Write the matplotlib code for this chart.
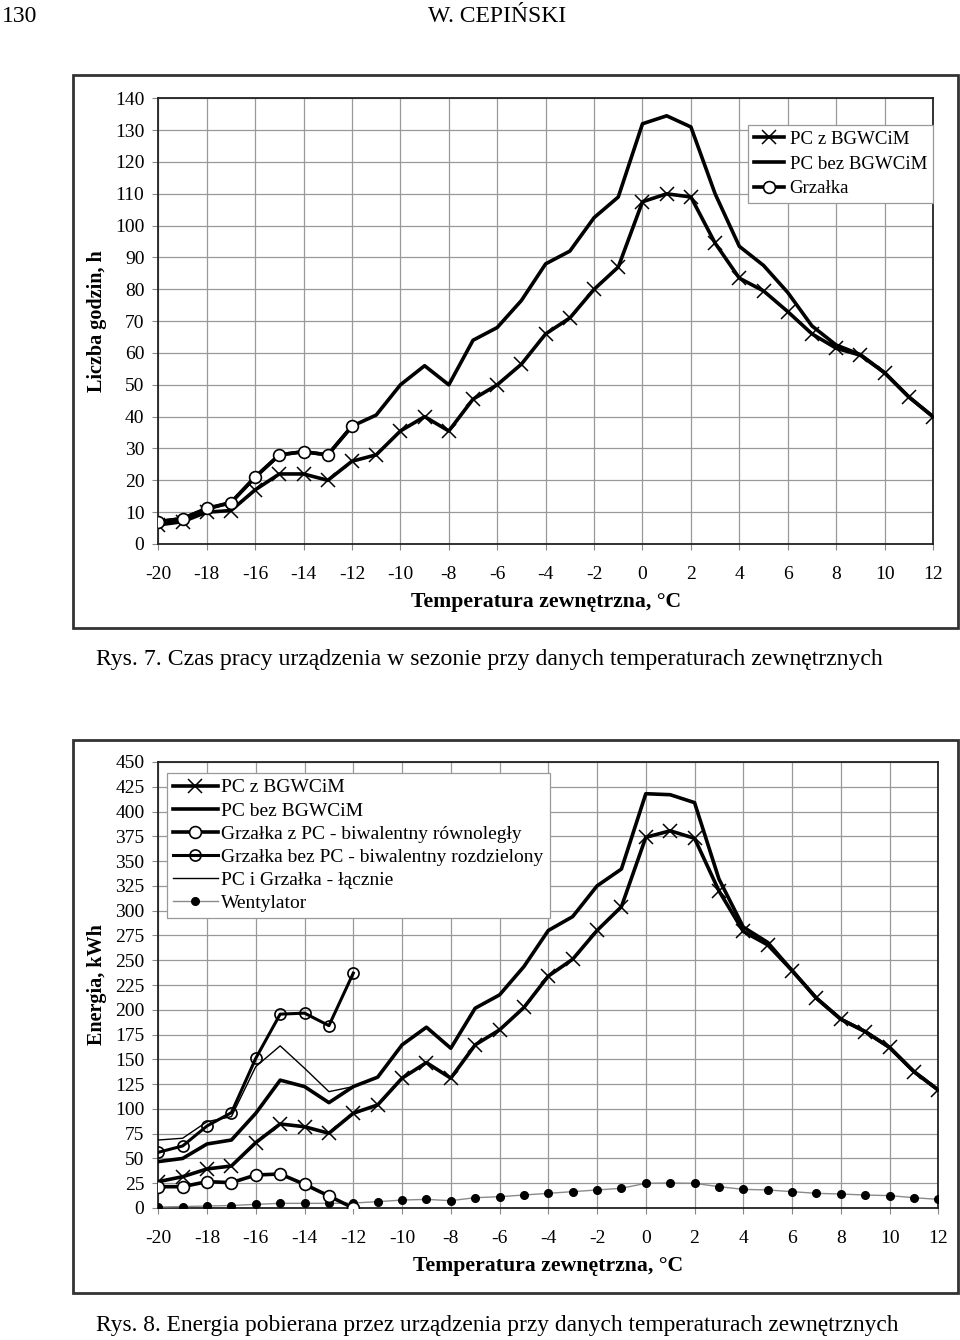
import matplotlib
matplotlib.use("Agg")
import matplotlib.pyplot as plt
from matplotlib.patches import Rectangle

plt.rcParams['font.family'] = ['Liberation Serif', 'DejaVu Serif']
plt.rcParams['axes.unicode_minus'] = False

# temperatura zewnetrzna, C
temps = list(range(-20, 13))

# Rys. 7 - liczba godzin pracy
hours_pc_z = [6, 7, 10, 10.5, 17, 22, 22, 20, 26, 28, 35.5, 40, 35.5, 45.5, 50, 56.5, 66,
              71, 80, 87, 107.5, 110, 109, 94.5, 83.5, 79.5, 73, 66, 61.5, 59.3, 53.8, 46.2, 40]
hours_pc_bez = [7, 8, 11, 13, 21, 28, 29, 28, 37, 40.5, 50, 56, 50, 64, 68, 76.5, 88,
                92, 102.5, 109, 132, 134.5, 131, 110, 93.5, 87.5, 79, 68.5, 62.5, 59.5, 53.8, 46.2, 40]
temps_grz = list(range(-20, -11))
hours_grz = [7, 8, 11.2, 13, 21, 28, 29, 28, 37]

# Rys. 8 - energia, kWh
en_pc_z = [26.6, 31.6, 39.4, 42.4, 66, 84.8, 82, 75.4, 95.6, 104, 131, 146.7, 131, 164.6, 179.7, 202.3, 234,
           251, 280, 304, 374, 380.6, 373, 320, 279, 265.5, 239.6, 211.7, 190.5, 178, 162, 137.6, 119]
en_pc_bez = [46.8, 50, 64.6, 68.6, 95.6, 129, 122.5, 106.3, 122.5, 132, 164.6, 182.4, 161.2, 201.6, 215, 243.6, 280,
             294, 325, 342, 418, 417, 409, 332, 283.4, 268, 239.6, 211.7, 190.5, 178, 162, 137.6, 119]
en_grz_z_pc = [21.5, 21.5, 26.6, 25.6, 33.3, 34.3, 23.9, 12.1, 0]
en_grz_bez_pc = [56.2, 62.6, 82.8, 96.2, 151.1, 195.6, 196.6, 184, 237]
en_pc_i_grz = [68.6, 70.4, 87.1, 92.2, 142.7, 163.6, 141, 117.4, 122.5]
en_went = [1, 1.5, 2, 2.5, 3.7, 4.7, 4.7, 4.7, 5, 6.4, 8, 8.7, 7.4, 10.4, 11.4, 13.1, 14.8,
           16.5, 18.2, 19.9, 24.9, 25.2, 24.9, 21.5, 18.8, 18.2, 16.5, 14.8, 14.1, 13.1, 12.5, 10.4, 8.7]

W, H = 960, 1340
fig = plt.figure(figsize=(W / 100, H / 100), dpi=100)


def fx(px):
    return px / W


def fy(py):
    return 1 - py / H


def frame(x0, y0, x1, y1):
    fig.patches.append(Rectangle((fx(x0), fy(y1)), fx(x1 - x0), (y1 - y0) / H, transform=fig.transFigure,
                                 fill=False, edgecolor='#333333', linewidth=2))


def style_axes(ax, ymax, ystep):
    ax.set_xlim(-20, 12)
    ax.set_ylim(0, ymax)
    ax.set_xticks(range(-20, 13, 2))
    ax.set_yticks(range(0, ymax + 1, ystep))
    ax.grid(True, color='#999999', linewidth=0.9)
    ax.set_axisbelow(True)
    for s in ax.spines.values():
        s.set_color('#222222')
        s.set_linewidth(1.3)
    ax.tick_params(axis='both', direction='out', length=4, width=0.8, color='#888888', labelsize=14)
    ax.tick_params(axis='y', pad=6)
    ax.tick_params(axis='x', pad=12)
    ax.set_xlabel('Temperatura zewnętrzna, °C', fontsize=15.7, fontweight='bold', labelpad=6)


# naglowek strony
fig.text(fx(2), fy(17), '130', fontsize=17, va='center', ha='left')
fig.text(fx(497), fy(17), 'W. CEPIŃSKI', fontsize=17, va='center', ha='center')

# ---------- Rys. 7 ----------
frame(73, 75, 958, 628)
ax1 = fig.add_axes([fx(158.3), fy(544), fx(933 - 158.3), (544 - 98.3) / H])
style_axes(ax1, 140, 10)
ax1.set_ylabel('Liczba godzin, h', fontsize=14.5, fontweight='bold', labelpad=6)

ax1.plot(temps, hours_pc_bez, color='black', lw=2.6, label='PC bez BGWCiM', zorder=3)
ax1.plot(temps, hours_pc_z, color='black', lw=2.6, marker='x', ms=10, mew=1.1, label='PC z BGWCiM', zorder=4)
ax1.plot(temps_grz, hours_grz, color='black', lw=2.6, marker='o', ms=8.5, mfc='white', mec='black', mew=1.2,
         label='Grzałka', zorder=5)

h, l = ax1.get_legend_handles_labels()
order = [1, 0, 2]
leg1 = ax1.legend([h[i] for i in order], [l[i] for i in order], loc='upper left',
                  bbox_to_anchor=(fx(748), fy(125)), bbox_transform=fig.transFigure, borderaxespad=0,
                  fontsize=13.6, fancybox=False, framealpha=1, edgecolor='#999999',
                  handlelength=1.6, handletextpad=0.3, labelspacing=0.4, borderpad=0.3)
leg1.get_frame().set_linewidth(0.9)

fig.text(fx(96), fy(660), 'Rys. 7. Czas pracy urządzenia w sezonie przy danych temperaturach zewnętrznych',
         fontsize=17.1, va='center', ha='left')

# ---------- Rys. 8 ----------
frame(73, 740, 958, 1293)
ax2 = fig.add_axes([fx(158.3), fy(1208), fx(938.3 - 158.3), (1208 - 762) / H])
style_axes(ax2, 450, 25)
ax2.set_ylabel('Energia, kWh', fontsize=14.5, fontweight='bold', labelpad=6)

ax2.plot(temps, en_went, color='#8a8a8a', lw=1, marker='o', ms=5.5, mfc='black', mec='black',
         label='Wentylator', zorder=3)
ax2.plot(temps_grz, en_pc_i_grz, color='black', lw=1, label='PC i Grzałka - łącznie', zorder=3)
ax2.plot(temps, en_pc_bez, color='black', lw=2.6, label='PC bez BGWCiM', zorder=4)
ax2.plot(temps, en_pc_z, color='black', lw=2.6, marker='x', ms=10, mew=1.1, label='PC z BGWCiM', zorder=4)
ax2.plot(temps_grz, en_grz_z_pc, color='black', lw=2.6, marker='o', ms=8.5, mfc='white', mec='black', mew=1.2,
         label='Grzałka z PC - biwalentny równoległy', zorder=5)
ax2.plot(temps_grz, en_grz_bez_pc, color='black', lw=2.2, marker='o', ms=8, mfc='none', mec='black', mew=1.2,
         label='Grzałka bez PC - biwalentny rozdzielony', zorder=5)

h, l = ax2.get_legend_handles_labels()
order = [3, 2, 4, 5, 1, 0]
leg2 = ax2.legend([h[i] for i in order], [l[i] for i in order], loc='upper left',
                  bbox_to_anchor=(fx(167), fy(773)), bbox_transform=fig.transFigure, borderaxespad=0,
                  fontsize=14, fancybox=False, framealpha=1, edgecolor='#999999',
                  handlelength=2.3, handletextpad=0.2, labelspacing=0.28, borderpad=0.3)
leg2.get_frame().set_linewidth(0.9)

fig.text(fx(96), fy(1325), 'Rys. 8. Energia pobierana przez urządzenia przy danych temperaturach zewnętrznych',
         fontsize=16.8, va='center', ha='left')

fig.savefig('out.png', dpi=100)
